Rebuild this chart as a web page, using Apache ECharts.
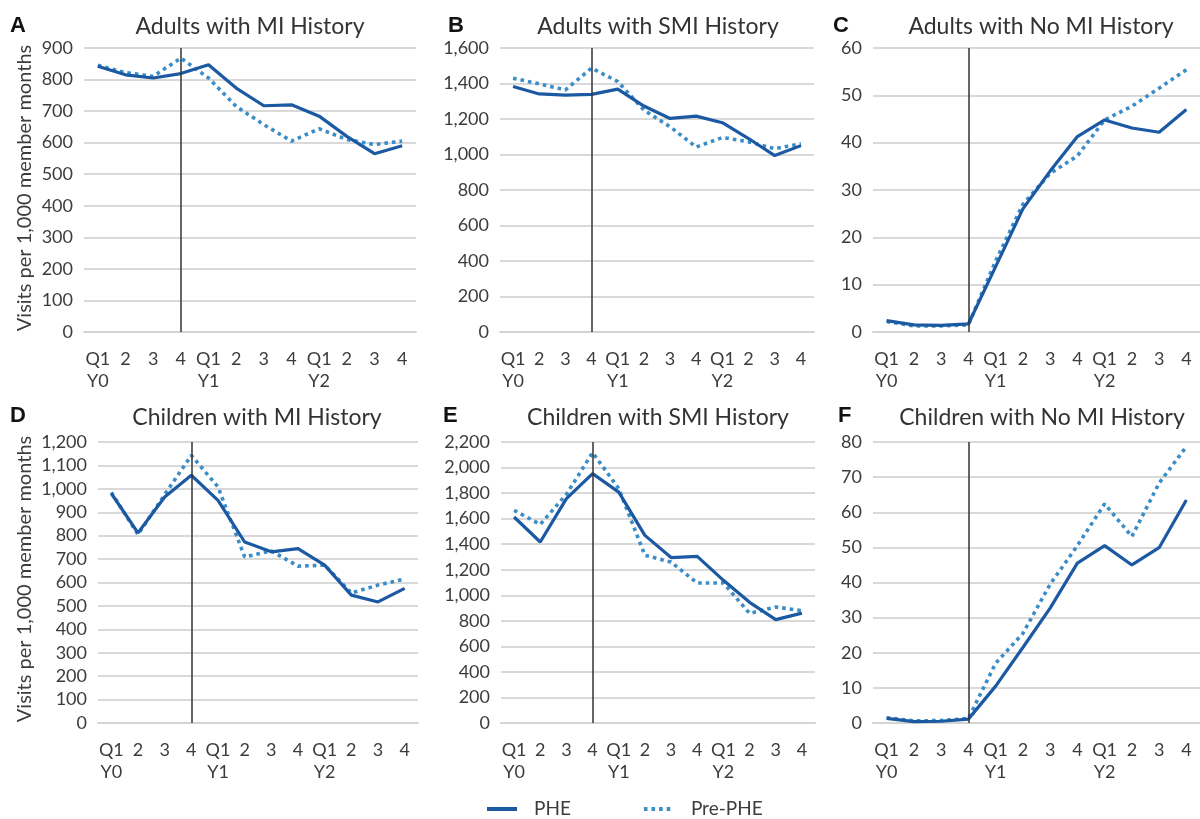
<!DOCTYPE html>
<html>
<head>
<meta charset="utf-8">
<script src="https://cdn.jsdelivr.net/npm/echarts@6/dist/echarts.min.js"></script>
<style>
html,body{margin:0;padding:0;background:#fff;}
#chart{width:1200px;height:819px;}
</style>
</head>
<body>
<div id="chart"></div>
<script>
// ---- data ----
const categories = ['Q1 Y0','Q2 Y0','Q3 Y0','Q4 Y0','Q1 Y1','Q2 Y1','Q3 Y1','Q4 Y1','Q1 Y2','Q2 Y2','Q3 Y2','Q4 Y2'];
const tickLabels = ['Q1\nY0','2','3','4','Q1\nY1','2','3','4','Q1\nY2','2','3','4'];
const seriesNames = ['PHE', 'Pre-PHE'];

const panelLetters = ['A','B','C','D','E','F'];
const panelTitles = ['Adults with MI History','Adults with SMI History','Adults with No MI History',
                     'Children with MI History','Children with SMI History','Children with No MI History'];
const yMax = [900, 1600, 60, 1200, 2200, 80];
const yInterval = [100, 200, 10, 100, 200, 10];

const adultsMI_PHE    = [842, 815, 805, 819, 847, 773, 717, 720, 684, 620, 565, 590];
const adultsMI_Pre    = [845, 822, 810, 868, 805, 715, 657, 605, 644, 610, 594, 605];
const adultsSMI_PHE   = [1383, 1341, 1335, 1339, 1368, 1273, 1203, 1216, 1179, 1090, 994, 1050];
const adultsSMI_Pre   = [1430, 1398, 1364, 1487, 1411, 1250, 1156, 1042, 1096, 1071, 1033, 1060];
const adultsNoMI_PHE  = [2.4, 1.5, 1.4, 1.7, 13.8, 26.0, 34.0, 41.3, 44.8, 43.1, 42.2, 47.0];
const adultsNoMI_Pre  = [2.2, 1.3, 1.3, 1.5, 15.0, 27.0, 33.5, 37.2, 44.8, 47.7, 51.5, 55.4];
const childMI_PHE     = [980, 812, 965, 1058, 951, 773, 731, 745, 674, 546, 517, 575];
const childMI_Pre     = [985, 805, 975, 1143, 1008, 709, 735, 670, 674, 555, 589, 615];
const childSMI_PHE    = [1613, 1417, 1757, 1952, 1808, 1469, 1295, 1305, 1117, 945, 809, 860];
const childSMI_Pre    = [1665, 1555, 1790, 2117, 1835, 1313, 1260, 1096, 1096, 858, 908, 880];
const childNoMI_PHE   = [1.3, 0.4, 0.5, 1.1, 10.5, 21.5, 32.7, 45.5, 50.5, 45.0, 49.9, 63.5];
const childNoMI_Pre   = [1.5, 0.6, 0.7, 1.3, 17.0, 25.5, 39.5, 50.5, 62.4, 53.1, 68.3, 78.7];

const phe = [adultsMI_PHE, adultsSMI_PHE, adultsNoMI_PHE, childMI_PHE, childSMI_PHE, childNoMI_PHE];
const pre = [adultsMI_Pre, adultsSMI_Pre, adultsNoMI_Pre, childMI_Pre, childSMI_Pre, childNoMI_Pre];

// ---- layout ----
const grids = [
  {left: 84,  top: 48,  width: 332, height: 284},
  {left: 500, top: 48,  width: 314, height: 284},
  {left: 873, top: 48,  width: 336, height: 284},
  {left: 98,  top: 442, width: 320, height: 281},
  {left: 501, top: 442, width: 314, height: 281},
  {left: 873, top: 442, width: 336, height: 281}
];
const titlePos = [[250, 27],[658, 27],[1041, 27],[257, 418],[658, 418],[1042, 418]];
const letterPos = [[10, 26],[448, 26],[833, 26],[10, 416],[443, 416],[838, 416]];

const FONT = 'Lato, "Noto Sans", sans-serif';
const TXT = '#3c3c3c';
const PHE_COLOR = '#1c59a3';
const PRE_COLOR = '#3a8dc6';

const xAxes = [], yAxes = [], series = [], graphics = [];
grids.forEach((g, i) => {
  xAxes.push({
    type: 'category', gridIndex: i, data: categories, boundaryGap: true,
    axisLine: {lineStyle: {color: '#d4d4d4', width: 2}},
    axisTick: {alignWithLabel: true, length: 5, lineStyle: {color: '#d4d4d4', width: 2}},
    axisLabel: {interval: 0, margin: 16, fontFamily: FONT, fontSize: 18, color: TXT, lineHeight: 22,
      formatter: (v, idx) => tickLabels[idx]}
  });
  yAxes.push({
    type: 'value', gridIndex: i, min: 0, max: yMax[i], interval: yInterval[i],
    axisLine: {show: false}, axisTick: {show: false},
    splitLine: {lineStyle: {color: '#d9d9d9', width: 2}},
    axisLabel: {margin: 11, fontFamily: FONT, fontSize: 18, color: TXT,
      formatter: v => v.toLocaleString('en-US')}
  });
  series.push({
    name: seriesNames[0], type: 'line', xAxisIndex: i, yAxisIndex: i, data: phe[i],
    symbol: 'none', z: 3,
    lineStyle: {color: PHE_COLOR, width: 3.2}, itemStyle: {color: PHE_COLOR},
    markLine: {silent: true, symbol: 'none', label: {show: false},
      lineStyle: {color: '#333333', width: 1.5, type: 'solid'},
      data: [{xAxis: categories[3]}]}
  });
  series.push({
    name: seriesNames[1], type: 'line', xAxisIndex: i, yAxisIndex: i, data: pre[i],
    symbol: 'none', z: 2,
    lineStyle: {color: PRE_COLOR, width: 3.6, type: [3.6, 4]}, itemStyle: {color: PRE_COLOR}
  });
  graphics.push({
    type: 'text', x: titlePos[i][0], y: titlePos[i][1],
    style: {text: panelTitles[i], fontFamily: FONT, fontSize: 23, fill: '#333',
      textAlign: 'center', textVerticalAlign: 'middle'}
  });
  graphics.push({
    type: 'text', x: letterPos[i][0], y: letterPos[i][1],
    style: {text: panelLetters[i], fontFamily: '"Liberation Sans", Arial, sans-serif', fontWeight: 'bold',
      fontSize: 22, fill: '#111', textAlign: 'left', textVerticalAlign: 'middle'}
  });
});
[[25, 188],[25, 579]].forEach(p => {
  graphics.push({
    type: 'text', x: p[0], y: p[1], rotation: Math.PI / 2,
    style: {text: 'Visits per 1,000 member months', fontFamily: FONT, fontSize: 20, fill: TXT,
      textAlign: 'center', textVerticalAlign: 'middle'}
  });
});

const chart = echarts.init(document.getElementById('chart'), null, {renderer: 'canvas'});
chart.setOption({
  animation: false,
  backgroundColor: '#ffffff',
  grid: grids.map(g => Object.assign({containLabel: false}, g)),
  xAxis: xAxes,
  yAxis: yAxes,
  series: series,
  legend: {
    data: seriesNames, left: 485, top: 799, padding: 0, itemWidth: 30, itemHeight: 20, itemGap: 71,
    itemStyle: {opacity: 0},
    lineStyle: {width: 4},
    textStyle: {fontFamily: FONT, fontSize: 19, lineHeight: 20, color: TXT, padding: [0, 0, 0, 12]}
  },
  graphic: graphics
});
</script>
</body>
</html>
